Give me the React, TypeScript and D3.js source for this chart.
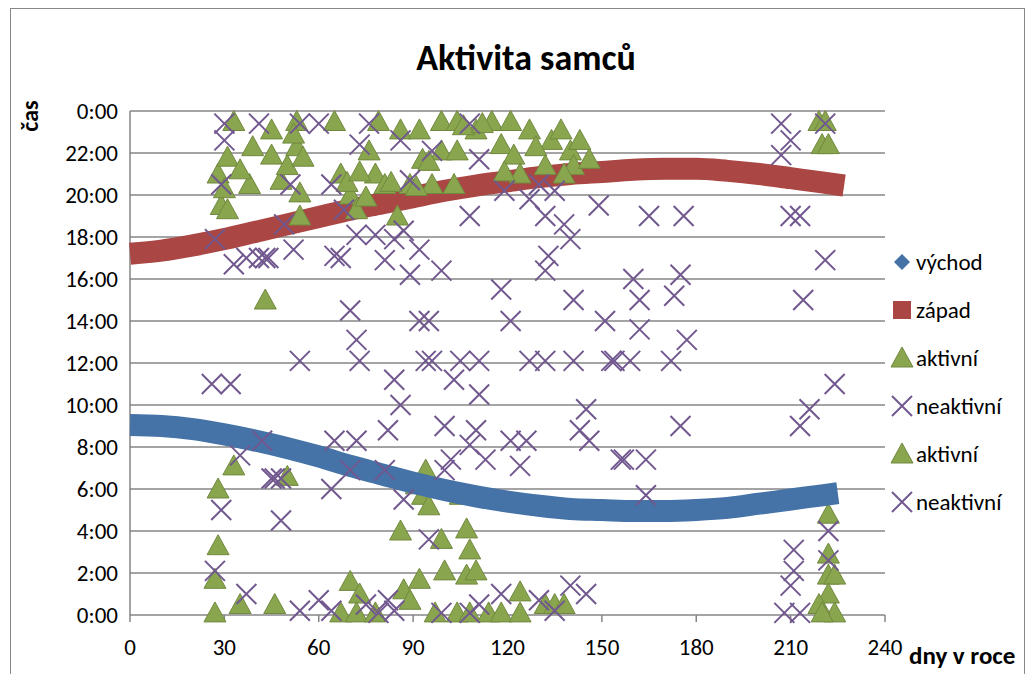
import React from 'react';
import * as d3 from 'd3';

// [day, hour]
const sunrise: [number, number][] = [
  [0, 9.05], [10, 9.0], [20, 8.85], [30, 8.6], [40, 8.3], [50, 7.95], [60, 7.55], [70, 7.1],
  [80, 6.7], [90, 6.3], [100, 5.95], [110, 5.65], [120, 5.4], [130, 5.2], [140, 5.05], [150, 5.0],
  [160, 4.95], [170, 4.95], [180, 5.0], [190, 5.1], [200, 5.3], [210, 5.5], [220, 5.7], [225, 5.8],
];
const sunset: [number, number][] = [
  [0, 17.2], [10, 17.35], [20, 17.6], [30, 17.9], [40, 18.25], [50, 18.6], [60, 18.95], [70, 19.3],
  [80, 19.6], [90, 19.9], [100, 20.2], [110, 20.45], [120, 20.65], [130, 20.85], [140, 21.0], [150, 21.1],
  [160, 21.2], [170, 21.25], [180, 21.25], [190, 21.15], [200, 21.0], [210, 20.8], [220, 20.6], [227, 20.45],
];
const active1: [number, number][] = [
  [33, 23.5], [28, 21], [31, 21.8], [29, 19.5], [31, 19.3], [38, 20.5], [39, 22.3], [45, 23.1], [45, 21.9],
  [48, 20.7], [50, 21.4], [53, 23.5], [53, 22.3], [55, 21.8], [54, 20.1], [54, 19], [65, 23.5], [67, 21],
  [70, 20], [72, 19.3], [79, 23.5], [76, 22.1], [78, 21], [81, 20.5], [85, 19], [86, 23.1], [89, 20.5],
  [92, 23.1], [93, 21.7], [96, 20.5], [99, 23.5], [99, 22.1], [103, 20.5], [104, 23.5], [104, 22.1],
  [110, 23.1], [115, 23.5], [118, 22.4], [121, 23.5], [122, 21.9], [124, 21], [127, 23.1], [134, 22.6],
  [137, 23.1], [140, 22.1], [141, 21.4], [146, 21.7], [138, 21], [132, 21.4], [43, 15],
  [30, 20.3], [35, 21.2], [52, 22.9], [69, 20.6], [73, 21.1], [75, 19.9], [83, 20.6], [91, 20.4], [95, 21.6],
  [106, 23.3], [112, 23.4], [119, 21.1], [129, 22.3], [143, 22.6],
  [219, 23.5], [221, 23.5], [220, 22.4], [222, 22.4],
];
const active2: [number, number][] = [
  [28, 6], [28, 3.3], [33, 7.1], [27, 1.7], [27, 0.1], [35, 0.5], [46, 0.5], [50, 6.6], [70, 1.6], [73, 1],
  [67, 0.1], [72, 0.1], [78, 0.1], [86, 4], [87, 1.2], [89, 0.7], [92, 1.7], [94, 6.9], [93, 5.7], [91, 6.2],
  [95, 5.2], [99, 3.6], [100, 2.1], [104, 0.1], [97, 0.1], [107, 4.1], [108, 3.1], [107, 1.9], [110, 2.1],
  [108, 0.1], [114, 0.1], [118, 0.1], [124, 1.1], [124, 0.1], [105, 5.7], [132, 0.5], [135, 0.5], [138, 0.5],
  [222, 4.8], [222, 2.9], [222, 1.9], [224, 1.9], [222, 1], [224, 0.1], [219, 0.5], [220, 0.1],
];
const inactive1: [number, number][] = [
  [30, 23.4], [30, 22.6], [29, 20.5], [27, 17.9], [41, 23.4], [54, 23.4], [60, 23.4], [51, 20.5], [52, 17.4],
  [49, 18.6], [33, 16.7], [37, 17], [41, 17], [43, 17], [44, 17], [64, 20.5], [65, 17.1], [67, 17], [68, 19.3],
  [72, 18.1], [76, 23.4], [78, 18.1], [81, 16.9], [89, 16.2], [92, 17.4], [87, 18.3], [84, 17.9], [86, 22.6],
  [73, 22.4], [96, 22.1], [89, 20.7], [99, 16.4], [108, 19], [111, 21.7], [119, 20.2], [127, 19.8], [132, 19],
  [108, 23.4], [130, 20.5], [135, 20.2], [118, 15.5], [132, 16.4], [133, 17.1], [138, 18.6], [140, 17.9],
  [141, 15], [149, 19.5], [151, 14], [160, 16], [162, 15], [165, 19], [162, 13.6], [173, 15.2], [175, 16.2],
  [176, 19], [177, 13.1], [207, 21.9], [210, 22.6], [210, 19], [213, 19], [214, 15], [221, 16.9], [221, 23.4],
  [207, 23.4], [70, 14.5], [72, 13.1], [92, 14], [95, 14],
];
const inactive2: [number, number][] = [
  [26, 11], [32, 11], [27, 2.1], [29, 5], [35, 7.6], [37, 1], [42, 8.3], [45, 6.5], [46, 6.5], [48, 6.5],
  [48, 4.5], [54, 12.1], [64, 6], [65, 8.3], [64, 0.2], [54, 0.2], [60, 0.7], [73, 12.1], [70, 6.9], [72, 8.3],
  [84, 11.2], [86, 10], [82, 8.8], [81, 6.9], [87, 5.5], [94, 12.1], [96, 12.1], [95, 3.6], [100, 9],
  [100, 6.9], [102, 7.4], [103, 11.2], [105, 12.1], [108, 8.1], [111, 10.5], [111, 12.1], [110, 8.8],
  [113, 7.4], [121, 14], [121, 8.3], [124, 7.1], [126, 8.3], [127, 12.1], [132, 12.1], [141, 12.1],
  [143, 8.8], [145, 9.8], [146, 8.3], [153, 12.1], [154, 12.1], [156, 7.4], [157, 7.4], [159, 12.1],
  [164, 7.4], [164, 5.7], [172, 12.1], [175, 9], [140, 1.4], [145, 1], [130, 0.7], [135, 0.2], [118, 1],
  [111, 0.5], [108, 0.1], [99, 0.1], [84, 0.2], [82, 0.7], [75, 0.5], [79, 0.1], [216, 9.8], [213, 9],
  [211, 3.1], [211, 2.1], [210, 1.4], [208, 0.1], [213, 0.1], [224, 11], [222, 4], [222, 2.6],
];
const xTicks = [0, 30, 60, 90, 120, 150, 180, 210, 240];
const yTicks = [0, 2, 4, 6, 8, 10, 12, 14, 16, 18, 20, 22, 24];
const yLabels = ['0:00', '2:00', '4:00', '6:00', '8:00', '10:00', '12:00', '14:00', '16:00', '18:00', '20:00', '22:00', '0:00'];

const BLUE = '#4572A7', RED = '#AA4643', GREEN = '#89A54E', GREEN_D = '#71893F', PURPLE = '#71588F';
const font = 'Carlito, "Open Sans", "Noto Sans", sans-serif';

export default function App() {
  const x = d3.scaleLinear().domain([0, 240]).range([130, 885]);
  const y = d3.scaleLinear().domain([0, 24]).range([615, 111]);
  const line = d3.line<[number, number]>().x(d => x(d[0])).y(d => y(d[1])).curve(d3.curveMonotoneX);
  const tri = (cx: number, cy: number, k: string | number) => (
    <path key={k} d={`M${cx},${cy - 11}L${cx + 11},${cy + 9}L${cx - 11},${cy + 9}Z`} fill={GREEN} stroke={GREEN_D} strokeWidth={1} />
  );
  const cross = (cx: number, cy: number, k: string | number) => (
    <path key={k} d={`M${cx - 10},${cy - 10}L${cx + 10},${cy + 10}M${cx - 10},${cy + 10}L${cx + 10},${cy - 10}`} stroke={PURPLE} strokeWidth={2} fill="none" />
  );
  const legend = [
    { name: 'východ', kind: 'diamond' }, { name: 'západ', kind: 'square' }, { name: 'aktivní', kind: 'tri' },
    { name: 'neaktivní', kind: 'cross' }, { name: 'aktivní', kind: 'tri' }, { name: 'neaktivní', kind: 'cross' },
  ];
  return (
    <svg width={1036} height={674} style={{ position: 'absolute', left: 0, top: 0, fontFamily: font }}>
      <rect x={0} y={0} width={1036} height={674} fill="#fff" />
      <rect x={10.5} y={8.5} width={1014} height={700} fill="none" stroke="#888" />
      <text x={526} y={70} textAnchor="middle" fontSize={36} fontWeight="bold">Aktivita samců</text>
      <text transform="translate(38,116) rotate(-90)" textAnchor="middle" fontSize={24} fontWeight="bold">čas</text>
      {yTicks.map((t, i) => (
        <g key={i}>
          <line x1={x(0)} x2={x(240)} y1={y(t)} y2={y(t)} stroke="#868686" strokeWidth={1.5} />
          <text x={118} y={y(t) + 8} textAnchor="end" fontSize={23}>{yLabels[i]}</text>
        </g>
      ))}
      {xTicks.map(t => (
        <g key={t}>
          <line x1={x(t)} x2={x(t)} y1={615} y2={622} stroke="#868686" strokeWidth={1.5} />
          <text x={x(t)} y={655} textAnchor="middle" fontSize={23}>{t}</text>
        </g>
      ))}
      <line x1={x(0)} x2={x(0)} y1={y(24)} y2={y(0)} stroke="#868686" strokeWidth={1.5} />
      <text x={909} y={664} fontSize={25} fontWeight="bold">dny v roce</text>
      <path d={line(sunset) || ''} stroke={RED} strokeWidth={22} fill="none" />
      {active1.map((d, i) => tri(x(d[0]), y(d[1]), 'a' + i))}
      {active2.map((d, i) => tri(x(d[0]), y(d[1]), 'b' + i))}
      <path d={line(sunrise) || ''} stroke={BLUE} strokeWidth={22} fill="none" />
      {inactive1.map((d, i) => cross(x(d[0]), y(d[1]), 'c' + i))}
      {inactive2.map((d, i) => cross(x(d[0]), y(d[1]), 'e' + i))}
      {legend.map((l, i) => {
        const ly = 262 + i * 48;
        const cx = 902;
        return (
          <g key={i}>
            {l.kind === 'diamond' && <path d={`M${cx},${ly - 8}L${cx + 8},${ly}L${cx},${ly + 8}L${cx - 8},${ly}Z`} fill={BLUE} />}
            {l.kind === 'square' && <rect x={cx - 9} y={ly - 9} width={18} height={18} fill={RED} />}
            {l.kind === 'tri' && tri(cx, ly, 't')}
            {l.kind === 'cross' && cross(cx, ly, 'x')}
            <text x={916} y={ly + 8} fontSize={23}>{l.name}</text>
          </g>
        );
      })}
    </svg>
  );
}
